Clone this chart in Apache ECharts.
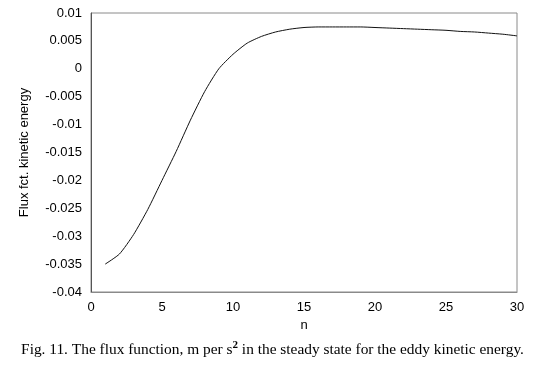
<!DOCTYPE html>
<html>
<head>
<meta charset="utf-8">
<script src="https://cdn.jsdelivr.net/npm/echarts@6/dist/echarts.min.js"></script>
<style>
html,body{margin:0;padding:0;background:#fff;}
#chart{width:545px;height:374px;}
</style>
</head>
<body>
<div id="chart"></div>
<script>
const nValues = [1,2,3,4,5,6,7,8,9,10,11,12,13,14,15,16,17,18,19,20,21,22,23,24,25,26,27,28,29,30];
const fluxValues = [-0.0350,-0.0332,-0.0297,-0.0252,-0.0200,-0.0148,-0.0092,-0.0041,0.0000,0.0026,
  0.0046,0.0058,0.0066,0.0071,0.0074,0.0075,0.0075,0.0075,0.0075,0.0074,
  0.0073,0.0072,0.0071,0.0070,0.0069,0.0067,0.0066,0.0064,0.0062,0.0059];
const yTickLabels = ['-0.04','-0.035','-0.03','-0.025','-0.02','-0.015','-0.01','-0.005','0','0.005','0.01'];
const xTickLabels = ['0','5','10','15','20','25','30'];
const yAxisTitle = 'Flux fct. kinetic energy';
const xAxisTitle = 'n';

const chart = echarts.init(document.getElementById('chart'));
const labelFont = {fontFamily:'Liberation Sans, Arial, sans-serif', fontSize:13, color:'#000'};
chart.setOption({
  animation:false,
  backgroundColor:'#fff',
  grid:{left:91, right:28, top:13, bottom:82, show:true, borderColor:'#8a8a8a', borderWidth:1},
  xAxis:{
    type:'value', min:0, max:30, interval:5,
    name:xAxisTitle, nameLocation:'middle', nameGap:26,
    nameTextStyle:labelFont,
    axisLine:{show:true, onZero:false, lineStyle:{color:'#8a8a8a'}},
    axisTick:{show:false},
    splitLine:{show:false},
    axisLabel:Object.assign({margin:9, formatter:(v)=>{const i=xTickLabels.indexOf(String(v));return i>=0?xTickLabels[i]:'';}}, labelFont)
  },
  yAxis:{
    type:'value', min:-0.04, max:0.01, interval:0.005,
    name:yAxisTitle, nameLocation:'middle', nameGap:60,
    nameTextStyle:labelFont,
    axisLine:{show:true, onZero:false, lineStyle:{color:'#555'}},
    axisTick:{show:false},
    splitLine:{show:false},
    axisLabel:Object.assign({margin:9, formatter:(v)=>{const idx=Math.round((v+0.04)/0.005);return yTickLabels[idx]!==undefined?yTickLabels[idx]:'';}}, labelFont)
  },
  series:[{
    type:'line',
    data:nValues.map((n,i)=>[n,fluxValues[i]]),
    symbol:'none',
    smooth:0.2,
    lineStyle:{color:'#111', width:1}
  }],
  graphic:[{
    type:'text',
    left:'center',
    top:340,
    style:{
      text:'Fig. 11. The flux function, m per s{sup|2} in the steady state for the eddy kinetic energy.',
      fontFamily:'Liberation Serif, Times New Roman, serif',
      fontSize:15.4,
      fill:'#000',
      rich:{sup:{fontSize:11, verticalAlign:'top', padding:[0,0,9,0], fontFamily:'Liberation Serif, serif', fontWeight:'bold'}}
    }
  }]
});
</script>
</body>
</html>
